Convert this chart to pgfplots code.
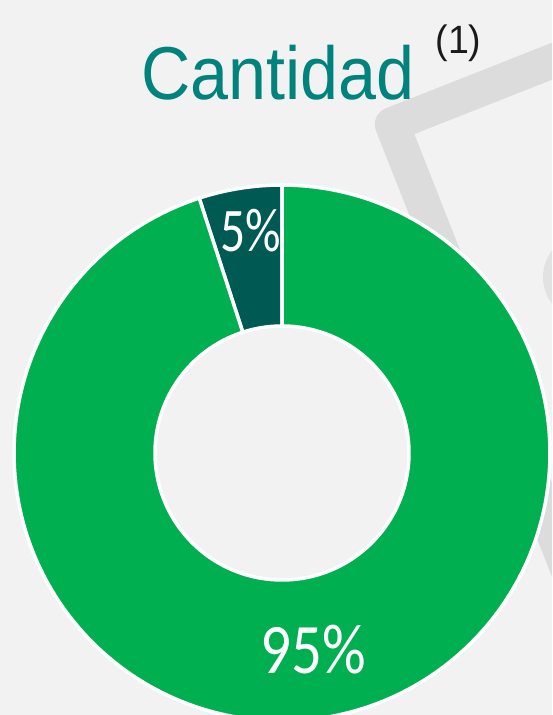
\documentclass[border=0pt]{standalone}
\usepackage{fontspec}
\usepackage{graphicx}
\usepackage{pgfplots}
\pgfplotsset{compat=1.18}
\newfontfamily\arialf{Liberation Sans}
\newfontfamily\calf{Carlito}
\definecolor{bg}{HTML}{F2F2F2}
\definecolor{bandgray}{HTML}{DCDCDC}
\definecolor{blobgray}{HTML}{E2E2E2}
\definecolor{slgreen}{HTML}{00B050}
\definecolor{sldark}{HTML}{005A54}
\definecolor{titleteal}{HTML}{00827D}
\definecolor{supgray}{HTML}{1A1A1A}
% data: shares in percent
\def\shareA{5}
\def\shareB{95}
\pgfmathsetmacro\aA{90}
\pgfmathsetmacro\bA{90+3.6*\shareA}
\pgfmathsetmacro\aB{\bA}
\pgfmathsetmacro\bB{\bA+3.6*\shareB}
\begin{document}
\begin{tikzpicture}
\begin{axis}[
  width=552pt,height=715pt,scale only axis,
  xmin=0,xmax=552,ymin=0,ymax=715,
  hide axis,
  clip bounding box=upper bound,
  declare function={
    ringang(\t,\a,\b)=(\t<=1)*(\a+\t*(\b-\a))+and(\t>1,\t<=2)*\b+and(\t>2,\t<=3)*(\b-(\t-2)*(\b-\a))+(\t>3)*\a;
    ringrad(\t)=(\t<=1)*268+and(\t>1,\t<=2)*(268-(\t-1)*141)+and(\t>2,\t<=3)*127+(\t>3)*(127+(\t-3)*141);
  },
]
% background
\addplot[fill=bg,draw=none] coordinates {(0,0) (552,0) (552,715) (0,715)} -- cycle;
% decorative shapes
\addplot[draw=bandgray,line width=34.4pt,line join=round] coordinates {(624.5,682.4) (392,590.6) (612.2,32.6)};
\addplot[fill=blobgray,draw=none,domain=0:360,samples=90] ({586.5+43.5*cos(x)},{438+43.5*sin(x)}) -- cycle;
% donut slices
\addplot[fill=sldark,draw=white,line width=3.5pt,domain=0:4,samples=401,variable=\t]
  ({282+ringrad(\t)*cos(ringang(\t,\aA,\bA))},{262+ringrad(\t)*sin(ringang(\t,\aA,\bA))}) -- cycle;
\addplot[fill=slgreen,draw=white,line width=3.5pt,domain=0:4,samples=801,variable=\t]
  ({282+ringrad(\t)*cos(ringang(\t,\aB,\bB))},{262+ringrad(\t)*sin(ringang(\t,\aB,\bB))}) -- cycle;
% labels
\node[inner sep=0pt,text=white] at (axis cs:251,484) {\scalebox{0.8}[1]{\calf\fontsize{62}{62}\selectfont 5\%}};
\node[inner sep=0pt,text=white] at (axis cs:313,65.5) {\scalebox{0.86}[1]{\calf\fontsize{71}{71}\selectfont 95\%}};
% title
\node[inner sep=0pt,anchor=base,text=titleteal] at (axis cs:278,615) {\scalebox{0.91}[1]{\arialf\fontsize{75}{75}\selectfont Cantidad}};
\node[inner sep=0pt,anchor=base,text=supgray] at (axis cs:458.5,661) {\scalebox{0.95}[1]{\arialf\fontsize{39.5}{39.5}\selectfont (1)}};
\end{axis}
\end{tikzpicture}
\end{document}
